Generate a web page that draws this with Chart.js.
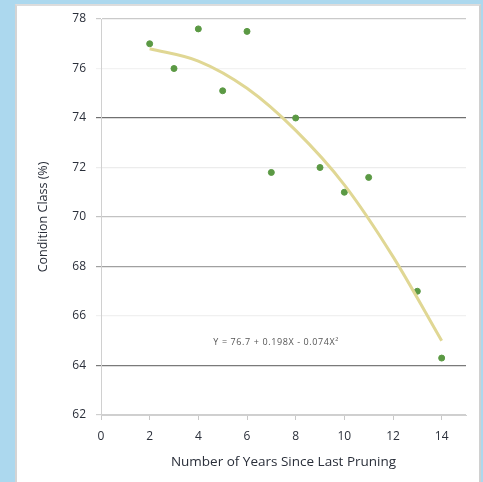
<!DOCTYPE html>
<html>
<head>
<meta charset="utf-8">
<script src="https://cdn.jsdelivr.net/npm/chart.js@4/dist/chart.umd.min.js"></script>
<style>
  html, body { margin: 0; padding: 0; }
  body { width: 483px; height: 482px; background: #acd8ee; position: relative; overflow: hidden; }
  #panel { position: absolute; left: 15px; top: 4px; width: 462px; height: 480px; background: #fff;
           border-left: 2px solid #d4d4d4; border-top: 2px solid #dcdcdc; border-right: 2px solid #d0d0d0; }
  #wrap { position: absolute; left: 0; top: 0; width: 483px; height: 482px; }
</style>
</head>
<body>
<div id="panel"></div>
<div id="wrap"><canvas id="chart" width="483" height="482"></canvas></div>
<script>
// years since last pruning vs. condition class
let years = [2, 3, 4, 5, 6, 7, 8, 9, 10, 11, 13, 14];
let condition = [77.0, 76.0, 77.6, 75.1, 77.5, 71.8, 74.0, 72.0, 71.0, 71.6, 67.0, 64.3];

// trend line
let trendX = [2, 4, 6, 8, 10, 12, 14];
let trendY = [76.8, 76.3, 75.2, 73.5, 71.3, 68.4, 65.0];
let trendLabel = 'Y = 76.7 + 0.198X - 0.074X\u00B2';

// gridline shade per tick
let gridShade = {62: '#cfcfcf', 64: '#7a7a7a', 66: '#f0f0f0', 68: '#a0a0a0', 70: '#c2c2c2',
                 72: '#ececec', 74: '#707070', 76: '#f2f2f2', 78: '#cacaca'};

const font = "'Open Sans', 'DejaVu Sans', sans-serif";
const textColor = '#2a2f3a';

const eqnPlugin = {
  id: 'eqn',
  afterDatasetsDraw(chart) {
    const ctx = chart.ctx;
    const x = chart.scales.x.getPixelForValue(7.2);
    const y = chart.scales.y.getPixelForValue(64.95);
    ctx.save();
    ctx.font = '9px ' + font;
    ctx.letterSpacing = '0.6px';
    ctx.fillStyle = '#555';
    ctx.textAlign = 'center';
    ctx.textBaseline = 'middle';
    ctx.fillText(trendLabel, x, y);
    ctx.restore();
  }
};

new Chart(document.getElementById('chart'), {
  type: 'scatter',
  data: {
    datasets: [
      {
        type: 'line',
        data: trendX.map((x, i) => ({x: x, y: trendY[i]})),
        borderColor: '#e0d794',
        borderWidth: 3,
        pointRadius: 0,
        cubicInterpolationMode: 'monotone',
        fill: false
      },
      {
        data: years.map((x, i) => ({x: x, y: condition[i]})),
        backgroundColor: '#5b9944',
        borderColor: '#5b9944',
        pointRadius: 3,
        pointHoverRadius: 3
      }
    ]
  },
  options: {
    responsive: false,
    animation: false,
    layout: { padding: { left: 20, right: 17, top: 19, bottom: 8 } },
    plugins: { legend: { display: false }, tooltip: { enabled: false } },
    scales: {
      x: {
        type: 'linear',
        min: 0, max: 15,
        ticks: { stepSize: 2, includeBounds: false, color: textColor, font: { family: font, size: 12 }, padding: 9 },
        grid: { drawOnChartArea: false, color: '#c8c8c8', tickLength: 5 },
        border: { color: '#d0d0d0' },
        title: { display: true, text: 'Number of Years Since Last Pruning', color: textColor,
                 font: { family: font, size: 13.5 }, padding: { top: 4 } },
        afterFit(scale) { scale.height = 59; }
      },
      y: {
        min: 62, max: 78,
        ticks: { stepSize: 2, color: textColor, font: { family: font, size: 12 }, padding: 10 },
        grid: { color: (c) => gridShade[c.tick.value] || '#ddd', tickLength: 5, lineWidth: 1.2 },
        border: { color: '#d0d0d0' },
        title: { display: true, text: 'Condition Class (%)', color: textColor,
                 font: { family: font, size: 12.5 }, padding: { top: 16, bottom: 0 } },
        afterFit(scale) { scale.width = 81; }
      }
    }
  },
  plugins: [eqnPlugin]
});
</script>
</body>
</html>
